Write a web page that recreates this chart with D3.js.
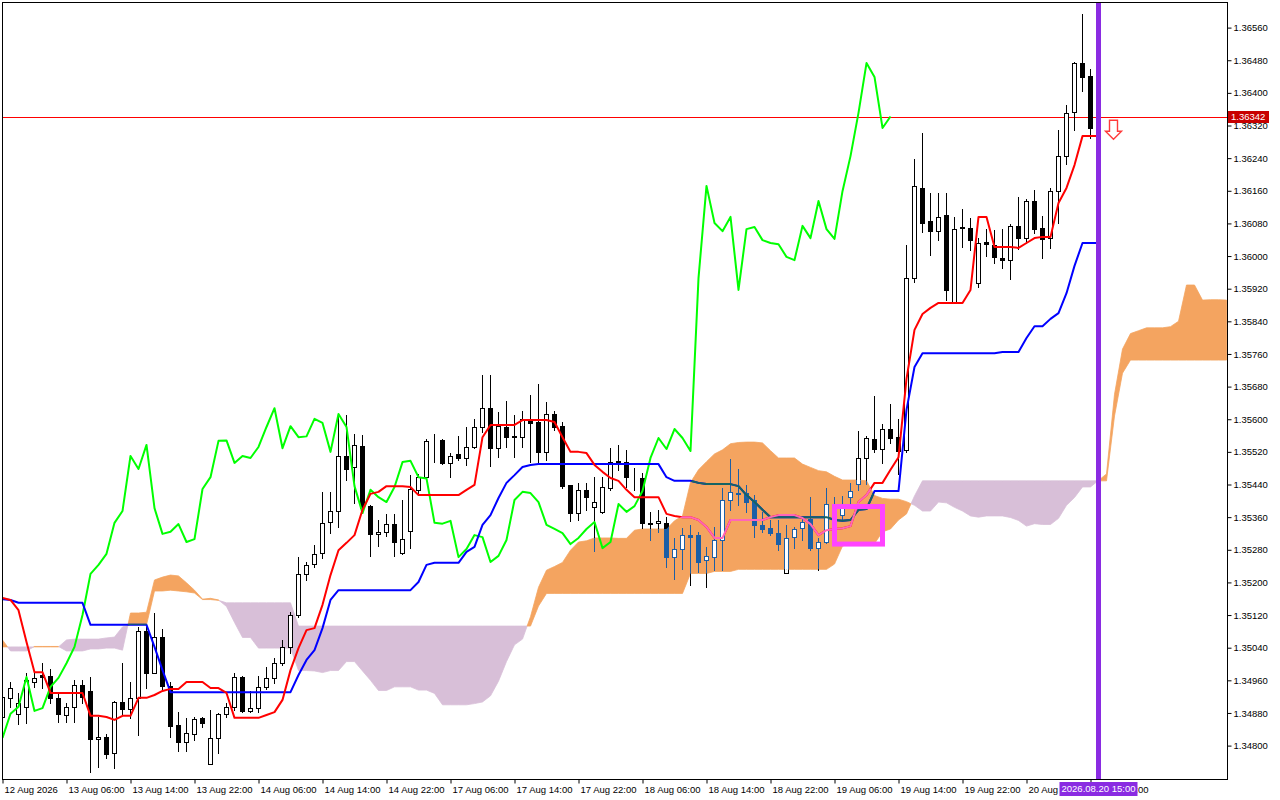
<!DOCTYPE html>
<html><head><meta charset="utf-8">
<script src="https://cdn.jsdelivr.net/npm/d3@7"></script>
<style>
html,body{margin:0;padding:0;background:#fff;}
svg{display:block;}
text{font-family:"Liberation Sans",Arial,sans-serif;font-size:9.5px;fill:#000;}
</style></head><body>
<svg id="c" width="1280" height="800"></svg>
<script>
// ---------- data (H1 candles + Ichimoku) ----------
const openP=[1.34870,1.34917,1.34878,1.34895,1.34956,1.34973,1.34971,1.34917,1.34875,1.34895,
1.34949,1.34934,1.34816,1.34821,1.34782,1.34907,1.34890,1.34917,1.35081,1.34978,
1.35066,1.34946,1.34851,1.34809,1.34828,1.34868,1.34755,1.34819,1.34878,1.34895,
1.34968,1.34885,1.34892,1.34944,1.34966,1.35002,1.35042,1.35120,1.35221,1.35245,
1.35272,1.35348,1.35375,1.35510,1.35483,1.35534,1.35387,1.35319,1.35324,1.35343,
1.35272,1.35326,1.35427,1.35458,1.35549,1.35549,1.35493,1.35515,1.35505,1.35532,
1.35581,1.35627,1.35529,1.35581,1.35556,1.35556,1.35601,1.35593,1.35520,1.35613,
1.35583,1.35439,1.35370,1.35427,1.35385,1.35373,1.35431,1.35495,1.35495,1.35456,
1.35456,1.35346,1.35346,1.35346,1.35262,1.35282,1.35316,1.35316,1.35255,1.35262,
1.35304,1.35402,1.35417,1.35419,1.35402,1.35341,1.35333,1.35321,1.35223,1.35311,
1.35333,1.35355,1.35284,1.35299,1.35390,1.35365,1.35409,1.35441,1.35505,1.35552,
1.35527,1.35576,1.35556,1.35525,1.35946,1.36167,1.36086,1.36061,1.36101,1.35887,
1.36069,1.36069,1.35934,1.36034,1.36027,1.35995,1.35990,1.36074,1.36044,1.36135,
1.36069,1.36044,1.36159,1.36245,1.36353,1.36473,1.36441,1.36314];
const highP=[1.34936,1.34956,1.34929,1.34978,1.34978,1.35002,1.34988,1.34929,1.34904,1.34961,
1.34961,1.34968,1.34870,1.34828,1.34909,1.35002,1.34956,1.35091,1.35091,1.35125,
1.35086,1.34956,1.34882,1.34868,1.34870,1.34870,1.34887,1.34880,1.34904,1.34978,
1.34971,1.34934,1.34971,1.34993,1.35015,1.35059,1.35127,1.35262,1.35250,1.35292,
1.35422,1.35422,1.35610,1.35610,1.35564,1.35561,1.35390,1.35353,1.35368,1.35368,
1.35402,1.35463,1.35466,1.35552,1.35564,1.35552,1.35517,1.35559,1.35581,1.35601,
1.35708,1.35708,1.35618,1.35645,1.35610,1.35620,1.35659,1.35686,1.35642,1.35620,
1.35593,1.35439,1.35444,1.35444,1.35458,1.35458,1.35529,1.35537,1.35525,1.35480,
1.35468,1.35373,1.35378,1.35360,1.35309,1.35333,1.35341,1.35324,1.35287,1.35336,
1.35431,1.35502,1.35478,1.35439,1.35414,1.35373,1.35353,1.35353,1.35341,1.35336,
1.35360,1.35409,1.35309,1.35431,1.35409,1.35412,1.35444,1.35571,1.35559,1.35657,
1.35588,1.35637,1.35601,1.36027,1.36238,1.36302,1.36154,1.36154,1.36154,1.36096,
1.36115,1.36093,1.36044,1.36066,1.36064,1.36066,1.36078,1.36145,1.36140,1.36162,
1.36098,1.36167,1.36309,1.36370,1.36476,1.36593,1.36458,1.36345];
const lowP=[1.34858,1.34895,1.34853,1.34855,1.34944,1.34941,1.34904,1.34858,1.34858,1.34858,
1.34904,1.34735,1.34748,1.34770,1.34745,1.34878,1.34868,1.34826,1.34941,1.34978,
1.34936,1.34821,1.34787,1.34787,1.34814,1.34846,1.34755,1.34782,1.34870,1.34887,
1.34882,1.34882,1.34882,1.34939,1.34953,1.34998,1.35027,1.35115,1.35206,1.35238,
1.35260,1.35321,1.35336,1.35451,1.35395,1.35378,1.35265,1.35289,1.35314,1.35265,
1.35270,1.35284,1.35419,1.35456,1.35495,1.35490,1.35458,1.35500,1.35488,1.35529,
1.35569,1.35485,1.35507,1.35532,1.35507,1.35532,1.35495,1.35495,1.35500,1.35574,
1.35431,1.35351,1.35353,1.35378,1.35277,1.35370,1.35427,1.35476,1.35434,1.35427,
1.35333,1.35304,1.35324,1.35238,1.35208,1.35233,1.35194,1.35226,1.35189,1.35230,
1.35230,1.35378,1.35390,1.35373,1.35311,1.35324,1.35316,1.35279,1.35223,1.35284,
1.35304,1.35279,1.35230,1.35297,1.35353,1.35353,1.35390,1.35427,1.35441,1.35520,
1.35493,1.35542,1.35466,1.35520,1.35936,1.36059,1.36002,1.36039,1.35892,1.35885,
1.36022,1.36015,1.35924,1.36000,1.35983,1.35971,1.35944,1.36017,1.36032,1.36056,
1.35995,1.36020,1.36081,1.36226,1.36309,1.36404,1.36289,1.36310];
const closeP=[1.34919,1.34941,1.34904,1.34961,1.34966,1.34968,1.34917,1.34878,1.34895,1.34949,
1.34919,1.34816,1.34821,1.34779,1.34907,1.34890,1.34917,1.35081,1.34978,1.35066,
1.34946,1.34848,1.34809,1.34831,1.34865,1.34855,1.34819,1.34878,1.34895,1.34968,
1.34885,1.34892,1.34944,1.34966,1.35002,1.35042,1.35120,1.35221,1.35243,1.35270,
1.35346,1.35375,1.35510,1.35478,1.35537,1.35382,1.35319,1.35324,1.35343,1.35299,
1.35306,1.35429,1.35458,1.35547,1.35548,1.35493,1.35510,1.35505,1.35532,1.35581,
1.35627,1.35529,1.35583,1.35556,1.35558,1.35601,1.35591,1.35520,1.35613,1.35581,
1.35436,1.35370,1.35427,1.35409,1.35397,1.35434,1.35495,1.35498,1.35458,1.35455,
1.35346,1.35344,1.35351,1.35262,1.35282,1.35316,1.35311,1.35250,1.35265,1.35304,
1.35402,1.35422,1.35419,1.35397,1.35341,1.35331,1.35321,1.35294,1.35309,1.35331,
1.35348,1.35284,1.35299,1.35392,1.35373,1.35387,1.35424,1.35505,1.35554,1.35527,
1.35576,1.35554,1.35522,1.35946,1.36172,1.36081,1.36061,1.36096,1.35917,1.36066,
1.36071,1.36039,1.36032,1.36029,1.35998,1.35990,1.36074,1.36044,1.36135,1.36066,
1.36042,1.36159,1.36245,1.36351,1.36473,1.36439,1.36314,1.36342];
const tenkan=[1.35162,1.35157,1.35132,1.35054,1.34980,1.34980,1.34929,1.34929,1.34929,1.34929,
1.34929,1.34873,1.34873,1.34870,1.34863,1.34873,1.34873,1.34917,1.34917,1.34924,
1.34934,1.34939,1.34939,1.34956,1.34956,1.34956,1.34941,1.34941,1.34929,1.34868,
1.34868,1.34868,1.34868,1.34875,1.34882,1.34912,1.34985,1.35039,1.35083,1.35088,
1.35145,1.35218,1.35279,1.35297,1.35316,1.35378,1.35417,1.35422,1.35436,1.35436,
1.35436,1.35434,1.35414,1.35414,1.35414,1.35414,1.35414,1.35414,1.35427,1.35439,
1.35556,1.35586,1.35586,1.35586,1.35586,1.35598,1.35598,1.35598,1.35598,1.35593,
1.35556,1.35520,1.35520,1.35517,1.35488,1.35471,1.35456,1.35449,1.35427,1.35409,
1.35409,1.35409,1.35409,1.35368,1.35363,1.35360,1.35360,1.35353,1.35336,1.35309,
1.35309,1.35353,1.35353,1.35353,1.35353,1.35353,1.35360,1.35365,1.35365,1.35365,
1.35358,1.35343,1.35316,1.35328,1.35331,1.35333,1.35338,1.35397,1.35414,1.35444,
1.35444,1.35476,1.35507,1.35699,1.35819,1.35858,1.35873,1.35885,1.35885,1.35885,
1.35885,1.35917,1.36096,1.36096,1.36022,1.36022,1.36022,1.36020,1.36032,1.36044,
1.36047,1.36047,1.36130,1.36167,1.36223,1.36294,1.36294,1.36294];
const kijun=[1.35159,1.35157,1.35150,1.35150,1.35150,1.35150,1.35150,1.35150,1.35150,1.35150,
1.35150,1.35096,1.35096,1.35096,1.35096,1.35096,1.35096,1.35096,1.35096,1.35042,
1.34985,1.34931,1.34931,1.34931,1.34931,1.34931,1.34931,1.34931,1.34931,1.34931,
1.34931,1.34931,1.34931,1.34931,1.34931,1.34931,1.34931,1.34973,1.35010,1.35034,
1.35088,1.35157,1.35181,1.35181,1.35181,1.35181,1.35181,1.35181,1.35181,1.35181,
1.35181,1.35181,1.35201,1.35243,1.35248,1.35248,1.35248,1.35248,1.35275,1.35287,
1.35341,1.35365,1.35407,1.35444,1.35463,1.35483,1.35488,1.35490,1.35490,1.35490,
1.35490,1.35490,1.35490,1.35490,1.35490,1.35490,1.35490,1.35490,1.35490,1.35490,
1.35490,1.35490,1.35490,1.35458,1.35449,1.35449,1.35449,1.35444,1.35441,1.35441,
1.35441,1.35441,1.35436,1.35414,1.35397,1.35378,1.35360,1.35360,1.35360,1.35360,
1.35360,1.35360,1.35360,1.35360,1.35353,1.35351,1.35353,1.35378,1.35380,1.35424,
1.35424,1.35424,1.35424,1.35623,1.35728,1.35762,1.35762,1.35762,1.35762,1.35762,
1.35762,1.35762,1.35762,1.35762,1.35762,1.35765,1.35765,1.35765,1.35799,1.35828,
1.35828,1.35846,1.35860,1.35909,1.35976,1.36032,1.36032,1.36032];
const chikou=[1.34819,1.34878,1.34895,1.34968,1.34885,1.34892,1.34944,1.34966,1.35002,1.35042,
1.35120,1.35221,1.35243,1.35270,1.35346,1.35375,1.35510,1.35478,1.35537,1.35382,
1.35319,1.35324,1.35343,1.35299,1.35306,1.35429,1.35458,1.35547,1.35548,1.35493,
1.35510,1.35505,1.35532,1.35581,1.35627,1.35529,1.35583,1.35556,1.35558,1.35601,
1.35591,1.35520,1.35613,1.35581,1.35436,1.35370,1.35427,1.35409,1.35397,1.35434,
1.35495,1.35498,1.35458,1.35455,1.35346,1.35344,1.35351,1.35262,1.35282,1.35316,
1.35311,1.35250,1.35265,1.35304,1.35402,1.35422,1.35419,1.35397,1.35341,1.35331,
1.35321,1.35294,1.35309,1.35331,1.35348,1.35284,1.35299,1.35392,1.35373,1.35387,
1.35424,1.35505,1.35554,1.35527,1.35576,1.35554,1.35522,1.35946,1.36172,1.36081,
1.36061,1.36096,1.35917,1.36066,1.36071,1.36039,1.36032,1.36029,1.35998,1.35990,
1.36074,1.36044,1.36135,1.36066,1.36042,1.36159,1.36245,1.36351,1.36473,1.36439,
1.36314,1.36342];
const senkouA=[1.35059,1.35032,1.35032,1.35032,1.35043,1.35043,1.35043,1.35043,1.35032,1.35032,
1.35032,1.35037,1.35037,1.35039,1.35039,1.35034,1.35125,1.35125,1.35127,1.35206,
1.35213,1.35218,1.35216,1.35199,1.35181,1.35159,1.35161,1.35157,1.35141,1.35102,
1.35065,1.35065,1.35039,1.35039,1.35039,1.35039,1.35039,1.34984,1.34984,1.34983,
1.34979,1.34984,1.34984,1.35006,1.35006,1.34983,1.34960,1.34935,1.34935,1.34944,
1.34944,1.34944,1.34936,1.34936,1.34928,1.34900,1.34900,1.34900,1.34900,1.34903,
1.34907,1.34922,1.34958,1.35006,1.35047,1.35061,1.35116,1.35188,1.35230,1.35239,
1.35249,1.35279,1.35299,1.35302,1.35309,1.35309,1.35309,1.35308,1.35308,1.35328,
1.35331,1.35331,1.35331,1.35331,1.35351,1.35363,1.35445,1.35476,1.35496,1.35515,
1.35525,1.35540,1.35543,1.35544,1.35544,1.35542,1.35523,1.35505,1.35505,1.35505,
1.35490,1.35482,1.35474,1.35471,1.35460,1.35451,1.35451,1.35451,1.35449,1.35413,
1.35406,1.35404,1.35404,1.35398,1.35389,1.35375,1.35375,1.35397,1.35395,1.35384,
1.35375,1.35363,1.35360,1.35363,1.35363,1.35363,1.35359,1.35352,1.35338,1.35344,
1.35342,1.35342,1.35357,1.35389,1.35408,1.35434,1.35434,1.35450,1.35466,1.35661,
1.35772,1.35810,1.35817,1.35824,1.35824,1.35824,1.35827,1.35840,1.35929,1.35929,
1.35892,1.35893,1.35893,1.35892];
const senkouB=[1.35042,1.35042,1.35042,1.35042,1.35042,1.35042,1.35042,1.35042,1.35059,1.35061,
1.35061,1.35061,1.35061,1.35064,1.35066,1.35091,1.35096,1.35096,1.35096,1.35179,
1.35179,1.35181,1.35179,1.35177,1.35174,1.35158,1.35158,1.35156,1.35150,1.35150,
1.35150,1.35150,1.35150,1.35150,1.35150,1.35150,1.35150,1.35093,1.35093,1.35093,
1.35093,1.35093,1.35093,1.35093,1.35093,1.35093,1.35093,1.35093,1.35093,1.35093,
1.35093,1.35093,1.35093,1.35093,1.35093,1.35093,1.35093,1.35093,1.35093,1.35093,
1.35093,1.35093,1.35093,1.35093,1.35093,1.35093,1.35093,1.35142,1.35173,1.35173,
1.35173,1.35173,1.35173,1.35173,1.35173,1.35173,1.35173,1.35173,1.35173,1.35173,
1.35173,1.35173,1.35173,1.35173,1.35173,1.35173,1.35222,1.35222,1.35222,1.35227,
1.35227,1.35227,1.35232,1.35232,1.35232,1.35232,1.35232,1.35232,1.35232,1.35232,
1.35232,1.35232,1.35232,1.35232,1.35245,1.35289,1.35295,1.35295,1.35295,1.35295,
1.35324,1.35331,1.35353,1.35368,1.35412,1.35449,1.35449,1.35449,1.35449,1.35449,
1.35449,1.35449,1.35449,1.35449,1.35449,1.35449,1.35449,1.35449,1.35449,1.35449,
1.35449,1.35449,1.35449,1.35449,1.35449,1.35449,1.35449,1.35449,1.35449,1.35608,
1.35713,1.35745,1.35745,1.35745,1.35745,1.35745,1.35745,1.35745,1.35745,1.35745,
1.35745,1.35745,1.35745,1.35745];
const xTickBars=[0,8,16,24,32,40,48,56,64,72,80,88,96,104,112,120,128,136];
const xTickLabels=["12 Aug 2026","13 Aug 06:00","13 Aug 14:00","13 Aug 22:00","14 Aug 06:00","14 Aug 14:00",
"14 Aug 22:00","17 Aug 06:00","17 Aug 14:00","17 Aug 22:00","18 Aug 06:00","18 Aug 14:00","18 Aug 22:00",
"19 Aug 06:00","19 Aug 14:00","19 Aug 22:00","20 Aug 06:00","20 Aug 14:00"];
const yTicks=[1.34800,1.34880,1.34960,1.35040,1.35120,1.35200,1.35280,1.35360,1.35440,1.35520,1.35600,
1.35680,1.35760,1.35840,1.35920,1.36000,1.36080,1.36160,1.36240,1.36320,1.36400,1.36480,1.36560];
const bidPrice=1.36342;
const cursorBar=137, cursorLabel="2026.08.20 15:00";
const signalBars=[139], signalPrices=[1.36333];
const zoneBars=[104,110], zonePrices=[1.35386,1.35294];

// ---------- drawing ----------
const svg=d3.select("#c");
const L=2.5,R=1227.5,T=2.5,B=779.5;
const x=d3.scaleLinear().domain([0,153]).range([2.5,2.5+8*153]);
const y=d3.scaleLinear().domain([1.348,1.3656]).range([745.6,27.6]);
const defs=svg.append("defs");
defs.append("clipPath").attr("id","plot").append("rect").attr("x",3).attr("y",3).attr("width",1224).attr("height",776);

function cloudRuns(){
  const runs=[];let cur=null;
  for(let i=0;i<senkouA.length;i++){
    const d=senkouA[i]-senkouB[i];
    let s=d>0?1:(d<0?-1:(cur?cur.s:1));
    const p={i:i,a:senkouA[i],b:senkouB[i]};
    if(!cur){cur={s:s,pts:[p]};continue;}
    if(s===cur.s){cur.pts.push(p);}
    else{
      const dp=senkouA[i-1]-senkouB[i-1];
      const t=dp/(dp-d);
      const ic=i-1+t, vc=senkouA[i-1]+t*(senkouA[i]-senkouA[i-1]);
      cur.pts.push({i:ic,a:vc,b:vc});runs.push(cur);
      cur={s:s,pts:[{i:ic,a:vc,b:vc},p]};
    }
  }
  runs.push(cur);return runs;
}
const runs=cloudRuns();
const area=d3.area().x(p=>x(p.i)).y0(p=>y(p.b)).y1(p=>y(p.a));
const bullClip=defs.append("clipPath").attr("id","bullcloud");
runs.filter(r=>r.s>0).forEach(r=>bullClip.append("path").attr("d",area(r.pts)));

const plot=svg.append("g").attr("clip-path","url(#plot)");
const cloudG=plot.append("g");
runs.forEach(r=>{
  const col=r.s>0?"#F4A460":"#D8BFD8";
  cloudG.append("path").attr("d",area(r.pts)).attr("fill",col).attr("stroke",col).attr("stroke-width",0.8);
});

// bid line
const bidY=Math.round(y(bidPrice))+0.5;
plot.append("line").attr("x1",L).attr("x2",R).attr("y1",bidY).attr("y2",bidY)
  .style("stroke","#ff0000").style("stroke-width","1px");

function drawCandles(g,stroke,bullFill,bearFill){
  const idx=d3.range(openP.length);
  g.selectAll("line.w").data(idx).join("line").attr("class","w")
   .attr("x1",i=>x(i)).attr("x2",i=>x(i))
   .attr("y1",i=>Math.round(y(highP[i]))).attr("y2",i=>Math.round(y(lowP[i]))+1)
   .attr("stroke",stroke).attr("stroke-width",1).attr("shape-rendering","crispEdges");
  g.selectAll("rect.b").data(idx).join("rect").attr("class","b")
   .attr("x",i=>x(i)-2).attr("width",4)
   .attr("y",i=>Math.round(y(Math.max(openP[i],closeP[i])))+0.5)
   .attr("height",i=>Math.max(0,Math.round(y(Math.min(openP[i],closeP[i])))-Math.round(y(Math.max(openP[i],closeP[i])))))
   .attr("fill",i=>closeP[i]>=openP[i]?bullFill:bearFill)
   .attr("stroke",stroke).attr("stroke-width",1).attr("shape-rendering","crispEdges");
}
function drawLine(g,data,col){
  g.append("path").datum(data).attr("fill","none").attr("stroke",col).attr("stroke-width",2)
   .attr("stroke-linejoin","round").attr("d",d3.line().x((d,i)=>x(i)).y(d=>y(d)));
}
const candleG=plot.append("g");
drawCandles(candleG,"#000","#fff","#000");
const lineG=plot.append("g");
drawLine(lineG,chikou,"#00ff00");
drawLine(lineG,kijun,"#0000ff");
drawLine(lineG,tenkan,"#ff0000");
const inG=plot.append("g").attr("clip-path","url(#bullcloud)");
drawCandles(inG.append("g"),"#1c5fa6","#fff","#1c5fa6");
drawLine(inG,kijun,"#156464");
drawLine(inG,tenkan,"#ff66b8");

plot.append("rect").attr("x",x(zoneBars[0])).attr("y",y(zonePrices[0]))
  .attr("width",x(zoneBars[1])-x(zoneBars[0])).attr("height",y(zonePrices[1])-y(zonePrices[0]))
  .attr("fill","none").attr("stroke","#ff44ff").attr("stroke-width",5);

plot.append("line").attr("x1",x(cursorBar)).attr("x2",x(cursorBar)).attr("y1",T).attr("y2",B)
  .attr("stroke","#8a2be2").attr("stroke-width",5);

signalBars.forEach((b,k)=>{
  const cx=x(b)-1,t=y(signalPrices[k]);
  const pth=`M${cx-4},${t} L${cx+4},${t} L${cx+4},${t+11} L${cx+8},${t+11} L${cx},${t+19} L${cx-8},${t+11} L${cx-4},${t+11} Z`;
  plot.append("path").attr("d",pth).attr("fill","#fff").attr("stroke","#ff3a3a").attr("stroke-width",1.4);
});

svg.append("rect").attr("x",L).attr("y",T).attr("width",R-L).attr("height",B-T)
  .attr("fill","none").attr("stroke","#000").attr("stroke-width",1).attr("shape-rendering","crispEdges");

const ya=svg.append("g").attr("transform",`translate(${R},0)`)
  .call(d3.axisRight(y).tickValues(yTicks).tickFormat(d3.format(".5f")).tickSize(4).tickPadding(2));
ya.select(".domain").remove();
ya.selectAll("text").style("font-size","9.5px").style("font-family","Liberation Sans, Arial, sans-serif");
const xa=svg.append("g").attr("transform",`translate(0,${B})`)
  .call(d3.axisBottom(x).tickValues(xTickBars).tickFormat((d,i)=>xTickLabels[i]).tickSize(4).tickPadding(3));
xa.select(".domain").remove();
xa.selectAll("text").attr("text-anchor","start").attr("x",1.5).style("font-size","9.5px").style("font-family","Liberation Sans, Arial, sans-serif");

const by=y(bidPrice);
svg.append("rect").attr("x",1228).attr("y",Math.round(by)-6).attr("width",41).attr("height",12).attr("fill","#c80000");
svg.append("text").attr("x",1231).attr("y",by).attr("dy","0.35em").style("fill","#fff").text(bidPrice.toFixed(5));

const cx0=x(cursorBar);
svg.append("rect").attr("x",cx0-39).attr("y",782).attr("width",78).attr("height",14).attr("fill","#8a2be2");
svg.append("text").attr("x",cx0).attr("y",789).attr("dy","0.35em").attr("text-anchor","middle").style("fill","#fff").text(cursorLabel);
</script>
</body></html>
